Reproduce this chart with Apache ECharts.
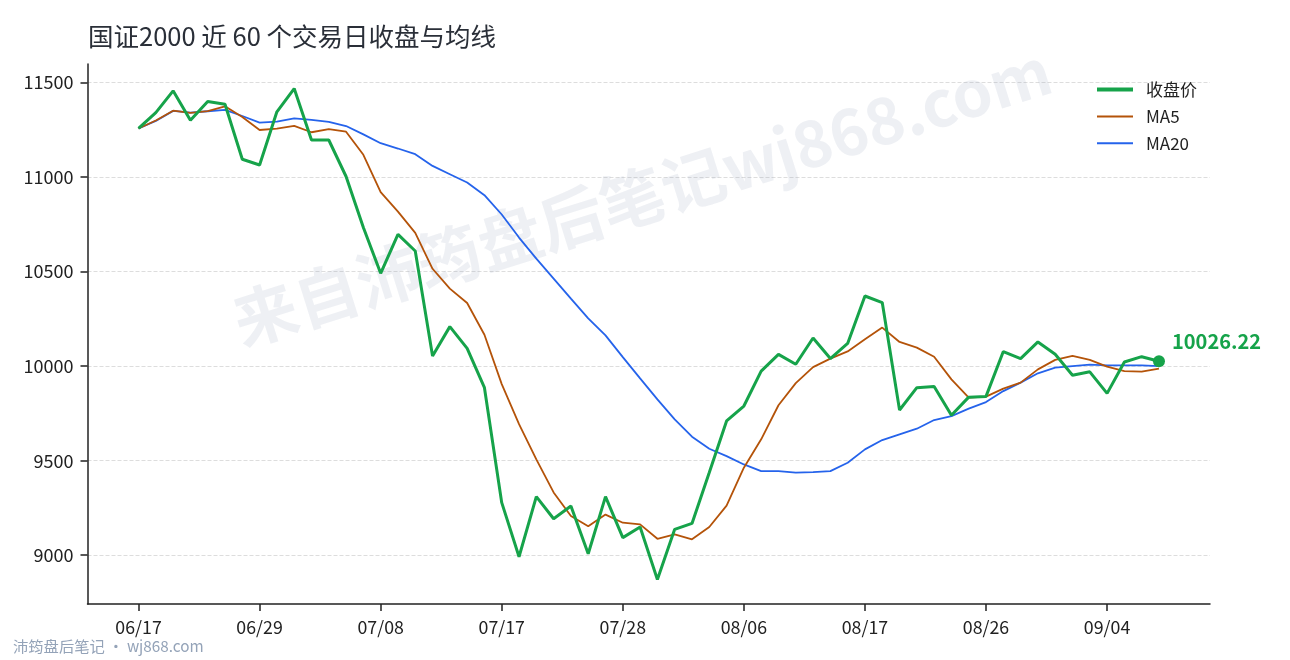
<!DOCTYPE html>
<html>
<head>
<meta charset="utf-8">
<script src="https://cdn.jsdelivr.net/npm/echarts@6/dist/echarts.min.js"></script>
<style>
html,body{margin:0;padding:0;background:#fff;}
#chart{width:1290px;height:660px;}
</style>
</head>
<body>
<div id="chart"></div>
<script>
const titleText = '国证2000 近 60 个交易日收盘与均线';
const seriesNames = ['收盘价', 'MA5', 'MA20'];
const tickIndex = [0, 7, 14, 21, 28, 35, 42, 49, 56];
const tickLabels = ['06/17', '06/29', '07/08', '07/17', '07/28', '08/06', '08/17', '08/26', '09/04'];
const yTicks = [9000, 9500, 10000, 10500, 11000, 11500];

const close = [11257, 11341, 11456, 11300, 11400, 11385, 11094, 11064, 11345, 11468,
  11196, 11196, 11003, 10733, 10491, 10697, 10609, 10054, 10209, 10094,
  9886, 9278, 8992, 9310, 9193, 9260, 9008, 9310, 9093, 9149,
  8872, 9137, 9168, 9437, 9710, 9789, 9974, 10062, 10010, 10149,
  10040, 10120, 10371, 10336, 9768, 9886, 9892, 9740, 9836, 9840,
  10077, 10040, 10128, 10063, 9952, 9970, 9856, 10022, 10050, 10026.22];

const ma5 = [11257, 11299, 11351, 11339, 11349, 11374, 11318, 11249, 11256, 11271,
  11237, 11254, 11240, 11118, 10920, 10817, 10705, 10515, 10410, 10334,
  10166, 9905, 9693, 9507, 9332, 9207, 9153, 9215, 9172, 9163,
  9087, 9110, 9084, 9149, 9262, 9463, 9613, 9793, 9910, 9995,
  10040, 10078, 10142, 10204, 10128, 10098, 10050, 9930, 9833, 9839,
  9881, 9913, 9983, 10033, 10054, 10033, 9997, 9974, 9971, 9987];

const ma20 = [11257, 11297, 11350, 11341, 11348, 11355, 11323, 11288, 11293, 11310,
  11302, 11292, 11270, 11226, 11179, 11151, 11121, 11059, 11015, 10971,
  10904, 10802, 10680, 10569, 10463, 10357, 10253, 10163, 10048, 9935,
  9824, 9718, 9627, 9563, 9524, 9480, 9445, 9445, 9437, 9440,
  9445, 9489, 9560, 9609, 9639, 9669, 9715, 9736, 9775, 9810,
  9868, 9913, 9962, 9992, 10000, 10008, 10004, 10004, 10004, 10000];

const FONT = '"Noto Sans CJK SC", "Noto Sans", sans-serif';
const toPairs = arr => arr.map((v, i) => [i, v]);
const lastIdx = close.length - 1;
const GREEN = '#16a34a', ORANGE = '#b45309', BLUE = '#2563eb';

const chart = echarts.init(document.getElementById('chart'), null, {renderer: 'canvas'});
chart.setOption({
  backgroundColor: '#fff',
  animation: false,
  textStyle: {fontFamily: FONT},
  title: {
    text: titleText,
    left: 83, top: 19,
    textStyle: {fontFamily: FONT, fontSize: 25.5, fontWeight: 'normal', color: '#2a2f38'}
  },
  legend: {
    orient: 'vertical',
    left: 1092, top: 76,
    itemWidth: 36, itemHeight: 4, itemGap: 9.9,
    itemStyle: {opacity: 1},
    data: [
      {name: seriesNames[0], icon: 'path://M0,0H36V4H0Z', itemStyle: {color: GREEN}},
      {name: seriesNames[1], icon: 'path://M0,1H36V3H0Z', itemStyle: {color: ORANGE}},
      {name: seriesNames[2], icon: 'path://M0,1H36V3H0Z', itemStyle: {color: BLUE}}
    ],
    textStyle: {fontFamily: FONT, fontSize: 17, color: '#222', padding: [0, 0, 0, 8]}
  },
  grid: {left: 87.5, right: 80, top: 64, bottom: 56, containLabel: false},
  graphic: [
    {
      type: 'text', z: 1, silent: true,
      x: 642, y: 196, rotation: 0.304,
      style: {
        text: '来自沛筠盘后笔记wj868.com',
        font: 'bold 64px ' + FONT,
        fill: 'rgba(148,163,184,0.16)',
        textAlign: 'center', textVerticalAlign: 'middle'
      }
    },
    {
      type: 'text', z: 10, silent: true,
      left: 13, top: 639,
      style: {
        text: '沛筠盘后笔记 · wj868.com',
        font: '15.3px ' + FONT,
        fill: '#94a3b8'
      }
    }
  ],
  xAxis: {
    type: 'value',
    min: -2.95, max: 61.95,
    axisLine: {show: true, onZero: false, lineStyle: {color: '#222', width: 1.5}},
    axisTick: {show: true, length: 7, customValues: tickIndex, lineStyle: {color: '#222', width: 1.5}},
    axisLabel: {
      customValues: tickIndex, margin: 14,
      fontFamily: FONT, fontSize: 17.8, color: '#222',
      formatter: v => tickLabels[tickIndex.indexOf(Math.round(v))] || ''
    },
    splitLine: {show: false}
  },
  yAxis: {
    type: 'value',
    min: 8742, max: 11598,
    axisLine: {show: true, onZero: false, lineStyle: {color: '#222', width: 1.5}},
    axisTick: {show: true, length: 7, customValues: yTicks, lineStyle: {color: '#222', width: 1.5}},
    axisLabel: {
      customValues: yTicks, margin: 14,
      fontFamily: FONT, fontSize: 18, color: '#222',
      formatter: v => String(Math.round(v))
    },
    splitLine: {show: true, lineStyle: {color: '#dddddd', width: 1, type: [4, 2]}}
  },
  series: [
    {
      name: seriesNames[0], type: 'line', data: toPairs(close),
      symbol: 'none', z: 5,
      lineStyle: {color: GREEN, width: 3},
      itemStyle: {color: GREEN}
    },
    {
      name: seriesNames[1], type: 'line', data: toPairs(ma5),
      symbol: 'none', z: 4,
      lineStyle: {color: ORANGE, width: 1.8},
      itemStyle: {color: ORANGE}
    },
    {
      name: seriesNames[2], type: 'line', data: toPairs(ma20),
      symbol: 'none', z: 3,
      lineStyle: {color: BLUE, width: 1.8},
      itemStyle: {color: BLUE}
    },
    {
      name: 'last', type: 'scatter', z: 6,
      data: [[lastIdx, close[lastIdx]]],
      symbolSize: 12,
      itemStyle: {color: GREEN, opacity: 1},
      label: {
        show: true, position: 'right', distance: 7, offset: [0, -20],
        formatter: p => p.value[1].toFixed(2),
        fontFamily: FONT, fontSize: 20, fontWeight: 'bold', color: GREEN, opacity: 1
      }
    }
  ]
});
</script>
</body>
</html>
